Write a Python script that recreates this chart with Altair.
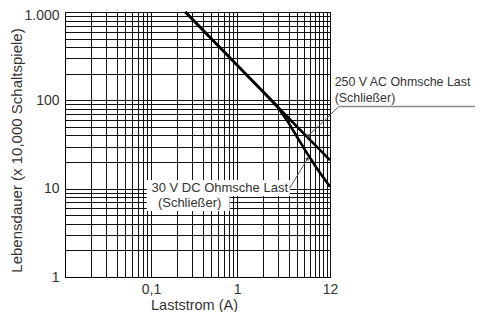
import altair as alt
import pandas as pd

# --- data ---
ac_current = [0.25, 1.0, 3.0, 6.5, 12.0]
ac_life = [1000, 250, 83, 38.5, 21]

dc_current = [0.25, 1.0, 2.87, 3.9, 5.1, 6.7, 8.7, 12.0]
dc_life = [1000, 250, 88, 57, 37, 24, 16.3, 10.5]

x_grid = [0.01, 0.02, 0.03, 0.04, 0.05, 0.06, 0.07, 0.08, 0.09,
          0.1, 0.2, 0.3, 0.4, 0.5, 0.6, 0.7, 0.8, 0.9,
          1, 2, 3, 4, 5, 6, 7, 8, 9, 10, 11, 12]
y_grid = [1, 2, 3, 4, 5, 6, 7, 8, 9,
          10, 20, 30, 40, 50, 60, 70, 80, 90,
          100, 200, 300, 400, 500, 600, 700, 800, 900, 1000]
x_tick_values = [0.1, 1, 12]
x_tick_labels = ["0,1", "1", "12"]
y_tick_values = [1, 10, 100, 1000]
y_tick_labels = ["1", "10", "100", "1.000"]

# annotation texts and anchors (data coordinates)
ann_text = ["250 V AC Ohmsche Last", "(Schließer)", "30 V DC Ohmsche Last", "(Schließer)"]
ann_x = [13.6, 13.6, 0.101, 0.12]
ann_y = [163, 105.6, 10.1, 6.8]
ann_size = [12.4, 12.4, 13, 13]

# white boxes behind the DC label
box_x = [0.089, 0.089]
box_x2 = [4.1, 0.82]
box_y = [12.55, 8.27]
box_y2 = [8.27, 5.59]

# leader lines
lead_x = [15.2, 15.2, 4.1]
lead_x2 = [720, 6.5, 6.7]
lead_y = [85, 85, 10.2]
lead_y2 = [85, 38.5, 22.5]
lead_color = ["#8a8a8a", "#555555", "#555555"]
lead_width = [1.6, 1, 1]

arrow_x = [6.7, 6.55]
arrow_y = [39.5, 21.8]
arrow_angle = [227, 31]


def label_expr(values, labels):
    parts = [f"datum.value == {v} ? '{l}'" for v, l in zip(values, labels)]
    return " : ".join(parts) + " : ''"


FONT = "Liberation Sans"
TXT = "#333333"

xscale = alt.Scale(type="log", domain=[0.01, 12], nice=False)
yscale = alt.Scale(type="log", domain=[1, 1000], nice=False)

xaxis = alt.Axis(values=x_grid, labelExpr=label_expr(x_tick_values, x_tick_labels),
                 grid=True, gridColor="#111111", gridWidth=1, gridOpacity=1,
                 ticks=False, domain=True, domainColor="#000000", domainWidth=1,
                 labelFont=FONT, labelFontSize=14, labelColor=TXT, labelPadding=5,
                 labelOverlap=False, labelFlush=False,
                 title="Laststrom (A)", titleFont=FONT, titleFontSize=14.5,
                 titleFontWeight="normal", titleColor=TXT, titleX=129, titleY=28,
                 titleAlign="center", titleBaseline="middle")
yaxis = alt.Axis(values=y_grid, labelExpr=label_expr(y_tick_values, y_tick_labels),
                 grid=True, gridColor="#111111", gridWidth=1, gridOpacity=1,
                 ticks=False, domain=True, domainColor="#000000", domainWidth=1,
                 labelFont=FONT, labelFontSize=14, labelColor=TXT, labelPadding=6,
                 labelOverlap=False, labelFlush=False,
                 labelOffset={"condition": {"test": "datum.value == 1000", "value": 3},
                              "value": 0},
                 title="Lebensdauer (x  10,000 Schaltspiele)", titleFont=FONT,
                 titleFontSize=15, titleFontWeight="normal", titleColor=TXT,
                 titleX=-49, titleY=138, titleAngle=-90, titleAlign="center",
                 titleBaseline="middle")

curves = pd.DataFrame({
    "x": ac_current + dc_current,
    "y": ac_life + dc_life,
    "series": ["AC"] * len(ac_current) + ["DC"] * len(dc_current),
    "order": list(range(len(ac_current))) + list(range(len(dc_current))),
})
boxes = pd.DataFrame({"x": box_x, "x2": box_x2, "y": box_y, "y2": box_y2})
leads = pd.DataFrame({"x": lead_x, "x2": lead_x2, "y": lead_y, "y2": lead_y2,
                      "c": lead_color, "w": lead_width})
arrows = pd.DataFrame({"x": arrow_x, "y": arrow_y, "a": arrow_angle})
texts = pd.DataFrame({"x": ann_x, "y": ann_y, "t": ann_text, "s": ann_size})

X = alt.X("x:Q", scale=xscale, axis=xaxis)
Y = alt.Y("y:Q", scale=yscale, axis=yaxis)

box_layer = alt.Chart(boxes).mark_rect(color="white", opacity=1).encode(
    x=X, x2="x2:Q", y=Y, y2="y2:Q",
)

lines = alt.Chart(curves).mark_line(color="#000000", strokeWidth=2.6).encode(
    x=X, y=Y, detail="series:N", order="order:Q",
)

lead_layer = alt.Chart(leads).mark_rule().encode(
    x=X, x2="x2:Q", y=Y, y2="y2:Q",
    color=alt.Color("c:N", scale=None),
    strokeWidth=alt.StrokeWidth("w:Q", scale=None),
)

arrow_layer = alt.Chart(arrows).mark_point(shape="triangle", filled=True, size=18,
                                           color="#444444", opacity=1).encode(
    x=X, y=Y, angle=alt.Angle("a:Q", scale=None),
)

text_layer = alt.Chart(texts).mark_text(align="left", baseline="middle", font=FONT,
                                        color=TXT).encode(
    x=X, y=Y, text="t:N", size=alt.Size("s:Q", scale=None),
)

chart = alt.layer(box_layer, lines, lead_layer, arrow_layer, text_layer).properties(
    width=265, height=265,
    autosize=alt.AutoSizeParams(type="none"),
    padding={"left": 57, "top": 4, "right": 145, "bottom": 35},
).configure_view(stroke="#000000", strokeWidth=1, fill="white")

chart.save("out.html", embed_options={"renderer": "svg", "actions": False})
